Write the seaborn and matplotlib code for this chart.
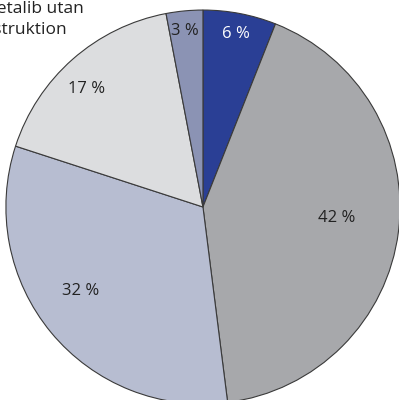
import matplotlib
matplotlib.use("Agg")
import matplotlib.pyplot as plt
import numpy as np
import seaborn as sns

sns.set_theme(style="white")
plt.rcParams["font.family"] = ["Open Sans", "DejaVu Sans"]

# Share of each category, clockwise from 12 o'clock
shares = [6, 42, 32, 17, 3]
labels = ["6 %", "42 %", "32 %", "17 %", "3 %"]
colors = ["#2a3f95", "#a7a8ab", "#b7bdd1", "#dcdddf", "#8b93b4"]
label_colors = ["white", "#222222", "#222222", "#222222", "#222222"]
# label placement (fraction of radius, angle in degrees)
label_r = [0.894, 0.683, 0.752, 0.84, 0.898]
label_ang = [79.2, -4.7, -145.4, 134.5, 95.8]

fig = plt.figure(figsize=(3.99, 4.0), dpi=100)
ax = fig.add_axes([0, 0, 1, 1])

wedges, _ = ax.pie(
    shares,
    colors=colors,
    startangle=90,
    counterclock=False,
    radius=1.0,
    wedgeprops=dict(edgecolor="#3a3a3a", linewidth=0.8),
)

for txt, r, a, c in zip(labels, label_r, label_ang, label_colors):
    ax.text(r * np.cos(np.radians(a)), r * np.sin(np.radians(a)), txt,
            ha="center", va="center", fontsize=12, color=c)

ax.set_xlim(-1.030, 0.995)
ax.set_ylim(-0.980, 1.051)
ax.set_aspect("auto")
ax.axis("off")

fig.text(84 / 399, 1 - 9 / 400, "Metalib utan", ha="right", va="center",
         fontsize=12.5, color="#222222")
fig.text(67 / 399, 1 - 30 / 400, "konstruktion", ha="right", va="center",
         fontsize=12.5, color="#222222")

fig.savefig("out.png", dpi=100, facecolor="white")
